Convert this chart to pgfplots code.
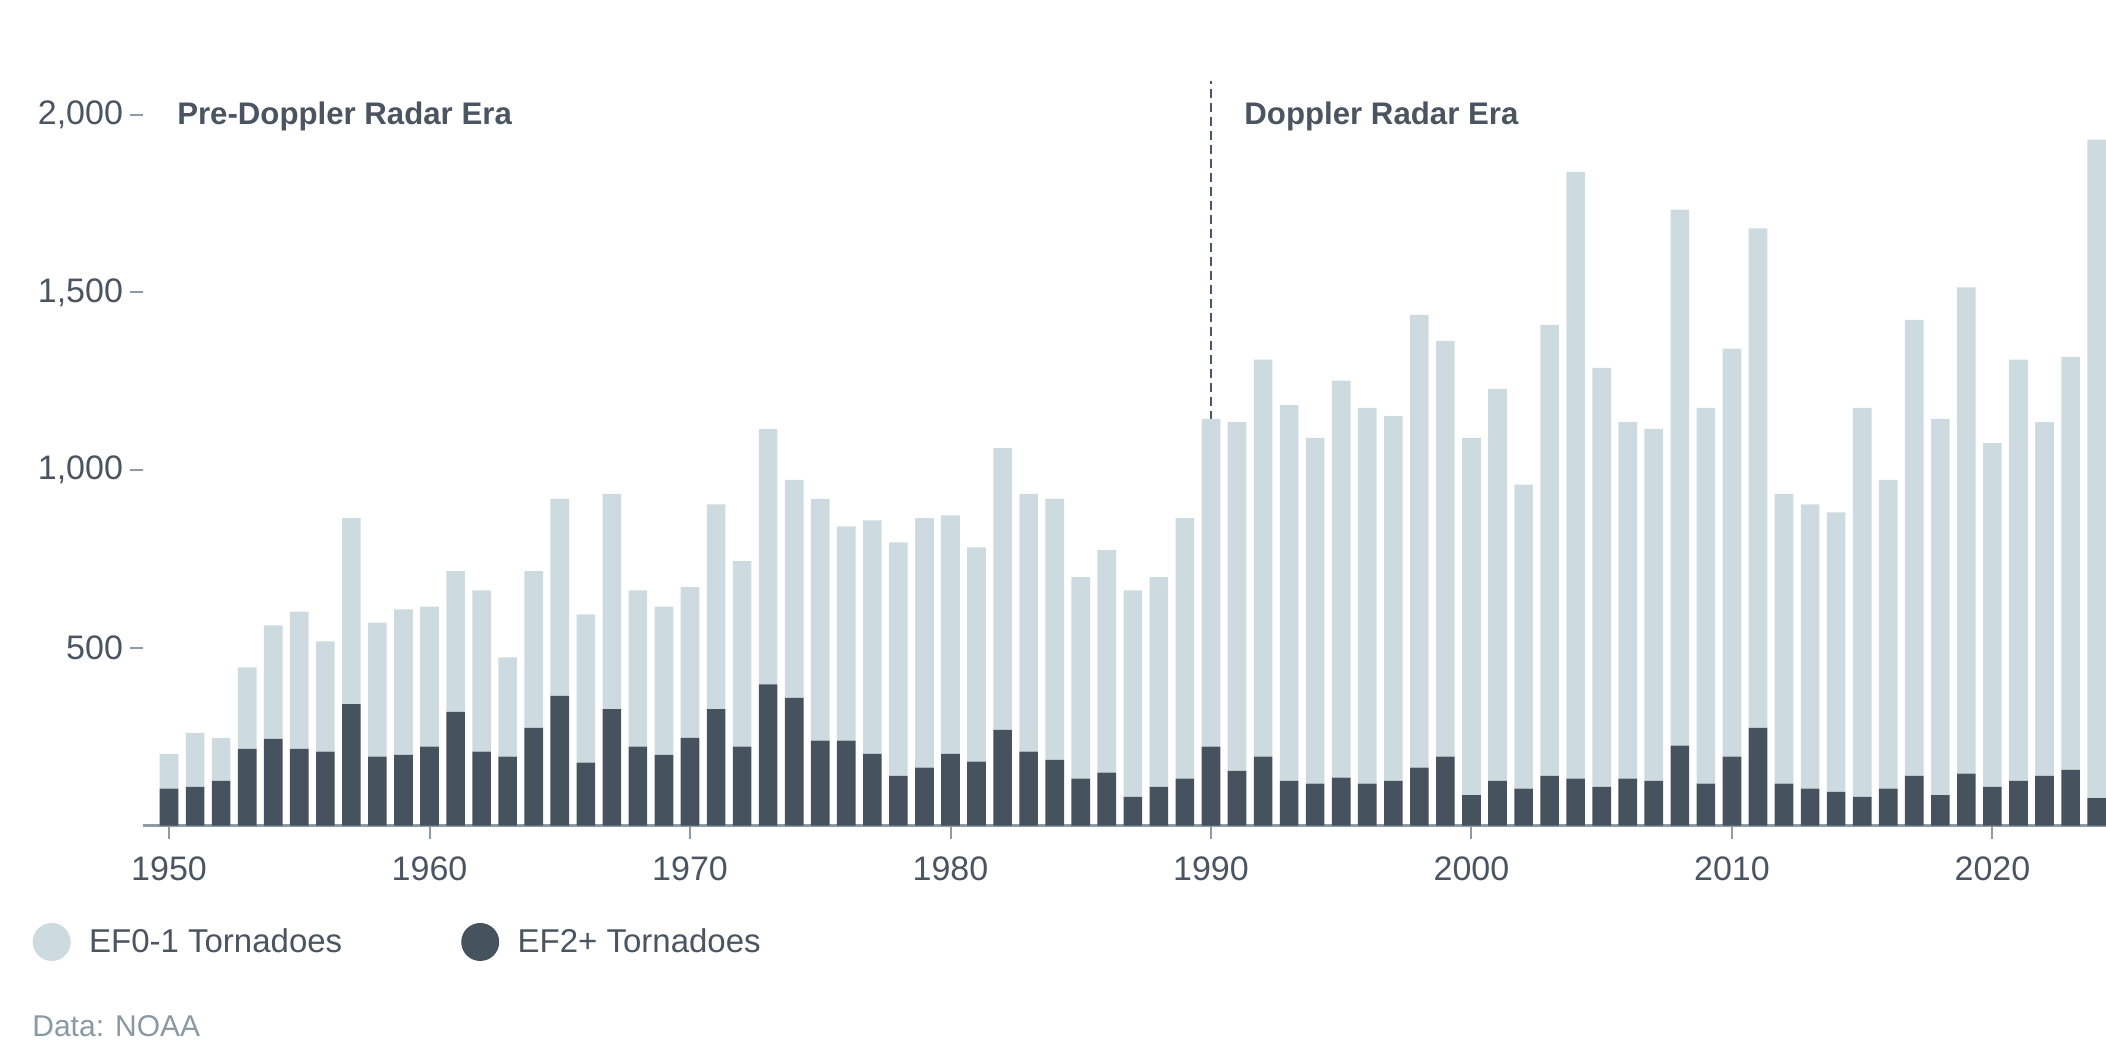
\documentclass[border=0pt]{standalone}
\usepackage{pgfplots}
\pgfplotsset{compat=1.18}
\usepackage{pgfplotstable}
\usepackage{fontspec}
\setmainfont{Liberation Sans}
\definecolor{lightbar}{HTML}{CDDADF}
\definecolor{darkbar}{HTML}{46525E}
\definecolor{textcol}{HTML}{4A5561}
\definecolor{axiscol}{HTML}{8C9BA5}
\definecolor{notecol}{HTML}{8A99A3}

\pgfplotstableread{
year ef2 ef01
1950 104 98
1951 109 152
1952 126 121
1953 216 229
1954 244 319
1955 216 386
1956 208 310
1957 342 523
1958 194 377
1959 199 409
1960 222 394
1961 320 396
1962 208 454
1963 194 279
1964 275 441
1965 365 554
1966 177 417
1967 328 605
1968 222 440
1969 199 417
1970 247 424
1971 328 576
1972 222 522
1973 397 719
1974 359 614
1975 239 680
1976 239 603
1977 202 657
1978 140 657
1979 163 702
1980 202 671
1981 180 603
1982 269 793
1983 208 725
1984 185 734
1985 132 567
1986 149 626
1987 81 581
1988 109 590
1989 132 733
1990 222 922
1991 154 981
1992 194 1117
1993 126 1057
1994 118 973
1995 135 1117
1996 118 1057
1997 126 1026
1998 163 1274
1999 194 1170
2000 86 1005
2001 126 1103
2002 104 855
2003 140 1269
2004 132 1707
2005 109 1179
2006 132 1003
2007 126 990
2008 225 1508
2009 118 1057
2010 194 1148
2011 275 1405
2012 118 815
2013 104 800
2014 95 786
2015 81 1094
2016 104 869
2017 140 1283
2018 86 1058
2019 146 1368
2020 109 967
2021 126 1185
2022 140 995
2023 157 1162
2024 77 1853
}\tornado

\begin{document}
\begin{tikzpicture}[x=1pt,y=1pt]
\useasboundingbox (0,0) rectangle (1053,521.5);
\begin{axis}[
  at={(71.5pt,108.7pt)}, anchor=south west,
  scale only axis, width=981.5pt, height=372.3pt,
  xmin=1949, xmax=2024.36, ymin=0, ymax=2095,
  ybar stacked, bar width=0.715,
  axis x line*=bottom, axis y line*=left,
  y axis line style={draw=none},
  x axis line style={draw=axiscol, line width=1.2pt},
  tick align=outside, major tick length=6.5pt,
  xtick={1950,1960,1970,1980,1990,2000,2010,2020},
  xticklabels={1950,1960,1970,1980,1990,2000,2010,2020},
  ytick={500,1000,1500,2000},
  yticklabels={500,{1,000},{1,500},{2,000}},
  tick style={draw=axiscol, line width=1pt},
  ticklabel style={font=\fontsize{17}{20}\selectfont, text=textcol},
  xticklabel style={yshift=-5.5pt},
  reverse legend, legend columns=2, legend cell align=left,
  legend image code/.code={\fill[#1] (0pt,0pt) circle (9.5pt);},
  legend style={draw=none, fill=none, inner sep=0pt, outer sep=0pt,
    at={(0,0)}, anchor=west, xshift=-55.15pt, yshift=-58.2pt,
    font=\fontsize{16.5}{20}\selectfont,
    nodes={inner sep=0pt, text=textcol},
    /tikz/every odd column/.append style={column sep=9.2pt},
    /tikz/every even column/.append style={column sep=59.5pt}},
]
\addplot[fill=darkbar, draw=none] table[x=year,y=ef2]{\tornado};
\addlegendentry{EF2+ Tornadoes}
\addplot[fill=lightbar, draw=none] table[x=year,y=ef01]{\tornado};
\addlegendentry{EF0-1 Tornadoes}
\draw[textcol, line width=1pt, dash pattern=on 4.5pt off 2.5pt] (axis cs:1990,0) -- (axis cs:1990,2095);
\node[anchor=base west, inner sep=0pt, font=\bfseries\fontsize{15.6}{18}\selectfont, text=textcol] at (axis cs:1950.3,1972) {Pre-Doppler Radar Era};
\node[anchor=base west, inner sep=0pt, font=\bfseries\fontsize{15.6}{18}\selectfont, text=textcol] at (axis cs:1991.27,1972) {Doppler Radar Era};
\end{axis}
\node[anchor=base west, inner sep=0pt, font=\fontsize{15}{18}\selectfont, text=notecol] at (16,3) {Data: NOAA};
\end{tikzpicture}
\end{document}
